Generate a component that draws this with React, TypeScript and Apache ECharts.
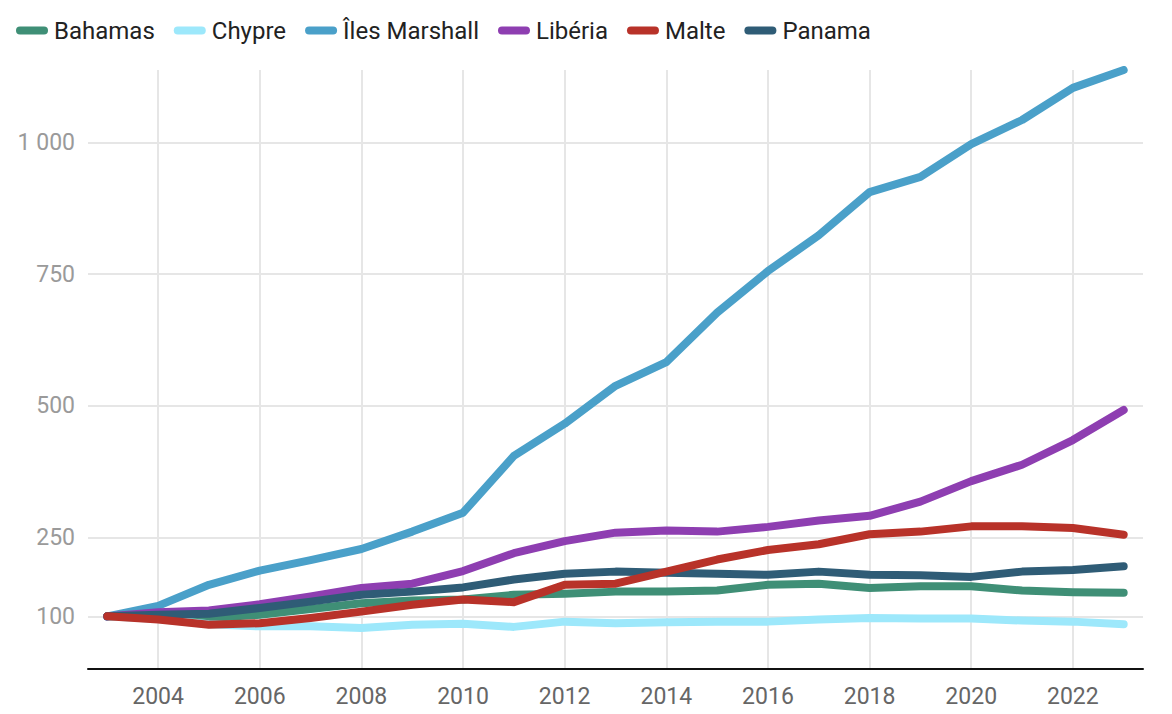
import React, { useEffect, useRef } from "react";
import * as echarts from "echarts";

const years = [2003, 2004, 2005, 2006, 2007, 2008, 2009, 2010, 2011, 2012, 2013, 2014, 2015, 2016, 2017, 2018, 2019, 2020, 2021, 2022, 2023];

const bahamas = [100, 100, 97, 103, 114, 125, 130, 132, 141, 143, 147, 147, 149, 160, 162, 154, 157, 157, 149, 146, 145];
const chypre = [100, 95, 85, 81, 81, 78, 84, 86, 80, 90, 87, 89, 90, 90, 94, 97, 96, 96, 92, 90, 85];
const marshall = [100, 120, 160, 187, 207, 228, 261, 297, 405, 466, 538, 583, 677, 756, 824, 906, 935, 997, 1043, 1104, 1138];
const liberia = [100, 108, 111, 123, 138, 154, 162, 186, 220, 243, 259, 263, 261, 270, 282, 291, 318, 357, 388, 435, 492];
const malte = [100, 94, 84, 87, 97, 109, 122, 132, 127, 160, 162, 185, 208, 226, 237, 256, 261, 271, 271, 268, 255];
const panama = [100, 103, 105, 116, 128, 141, 147, 155, 170, 181, 185, 183, 181, 179, 185, 179, 178, 175, 185, 188, 195];

const xTicks = [2004, 2006, 2008, 2010, 2012, 2014, 2016, 2018, 2020, 2022];
const yTicks = [100, 250, 500, 750, 1000];

const seriesDefs = [
  { name: "Bahamas", data: bahamas, color: "#3f8f76", z: 2 },
  { name: "Chypre", data: chypre, color: "#9de8fb", z: 2 },
  { name: "Îles Marshall", data: marshall, color: "#4aa0c9", z: 2 },
  { name: "Libéria", data: liberia, color: "#8e3eb1", z: 2 },
  { name: "Malte", data: malte, color: "#b83229", z: 4 },
  { name: "Panama", data: panama, color: "#2f5c76", z: 3 },
];

const FONT = "Roboto";

export default function App() {
  const ref = useRef<HTMLDivElement>(null);
  useEffect(() => {
    if (!ref.current) return;
    const chart = echarts.init(ref.current, null, { renderer: "svg" });
    chart.setOption({
      animation: false,
      textStyle: { fontFamily: FONT },
      legend: {
        top: 13.5,
        left: 11,
        itemWidth: 32,
        itemHeight: 8,
        itemGap: 19,
        icon: "path://M4,0 H28 A4,4 0 0 1 28,8 H4 A4,4 0 0 1 4,0 Z",
        textStyle: { fontFamily: FONT, fontSize: 24, color: "#222222", padding: [0, 0, 0, 1] },
        data: seriesDefs.map((s) => s.name),
      },
      grid: { left: 88, right: 29, top: 70, bottom: 45, containLabel: false },
      xAxis: {
        type: "value",
        min: 2002.62,
        max: 2023.38,
        axisLine: { show: true, lineStyle: { color: "#111111", width: 2 } },
        axisTick: { show: false, customValues: xTicks },
        axisLabel: {
          customValues: xTicks,
          fontFamily: FONT,
          fontSize: 23,
          color: "#666666",
          margin: 16,
          formatter: (v: number) => String(v),
        },
        splitLine: { show: true, lineStyle: { color: "#e6e6e6", width: 2 } },
      },
      yAxis: {
        type: "value",
        min: 0,
        max: 1138,
        axisLine: { show: false },
        axisTick: { show: false, customValues: yTicks },
        axisLabel: {
          customValues: yTicks,
          fontFamily: FONT,
          fontSize: 23,
          color: "#9a9a9a",
          margin: 13,
          formatter: (v: number) => (v >= 1000 ? String(Math.floor(v / 1000)) + " " + String(v % 1000).padStart(3, "0") : String(v)),
        },
        splitLine: { show: true, lineStyle: { color: "#e6e6e6", width: 2 } },
      },
      series: seriesDefs.map((s) => ({
        name: s.name,
        type: "line",
        data: years.map((y, i) => [y, s.data[i]]),
        showSymbol: false,
        symbol: "none",
        z: s.z,
        color: s.color,
        lineStyle: { color: s.color, width: 8, cap: "round", join: "round" },
        itemStyle: { color: s.color },
      })),
    });
    return () => chart.dispose();
  }, []);
  return <div ref={ref} style={{ position: "absolute", left: 0, top: 0, width: 1172, height: 714 }} />;
}
